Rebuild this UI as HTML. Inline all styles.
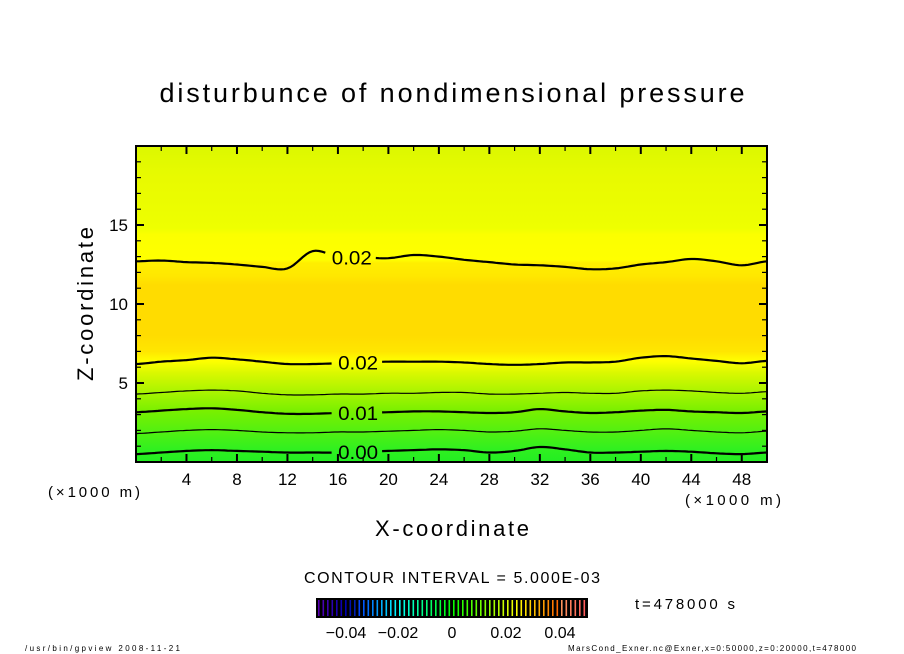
<!DOCTYPE html>
<html><head><meta charset="utf-8"><style>
html,body{margin:0;padding:0;background:#fff;}
svg{display:block;font-family:"Liberation Sans",sans-serif;}
</style></head><body>
<svg id="chart" width="904" height="654" viewBox="0 0 904 654">
<defs>
<linearGradient id="bg" x1="0" y1="1" x2="0" y2="0">
<stop offset="0" stop-color="#22ee22"/>
<stop offset="0.04" stop-color="#30f020"/>
<stop offset="0.10" stop-color="#55f010"/>
<stop offset="0.16" stop-color="#78f000"/>
<stop offset="0.22" stop-color="#a8f400"/>
<stop offset="0.28" stop-color="#d8f800"/>
<stop offset="0.32" stop-color="#ffff00"/>
<stop offset="0.35" stop-color="#ffe600"/>
<stop offset="0.40" stop-color="#ffdc00"/>
<stop offset="0.56" stop-color="#ffdc00"/>
<stop offset="0.59" stop-color="#ffe800"/>
<stop offset="0.63" stop-color="#ffef00"/>
<stop offset="0.64" stop-color="#ffff00"/>
<stop offset="0.72" stop-color="#fbff00"/>
<stop offset="0.74" stop-color="#eeff00"/>
<stop offset="0.90" stop-color="#e8fa00"/>
<stop offset="1" stop-color="#dcf800"/>
</linearGradient>
</defs>
<text x="452" y="102" font-size="27" text-anchor="middle" textLength="585" lengthAdjust="spacing">disturbunce of nondimensional pressure</text>
<rect x="136" y="146" width="631" height="316" fill="url(#bg)"/>
<g id="contours"></g>
<g id="ticks"></g>
<rect x="136" y="146" width="631" height="316" fill="none" stroke="#000" stroke-width="2"/>
<g id="labels" font-size="17"></g>
<text x="48" y="497" font-size="15" textLength="92" lengthAdjust="spacing">(×1000 m)</text>
<text x="685" y="505" font-size="15" textLength="96" lengthAdjust="spacing">(×1000 m)</text>
<text x="452" y="536" font-size="22" text-anchor="middle" textLength="154" lengthAdjust="spacing">X-coordinate</text>
<text transform="translate(93,304) rotate(-90)" font-size="22" text-anchor="middle" textLength="154" lengthAdjust="spacing">Z-coordinate</text>
<text x="452" y="583" font-size="16" text-anchor="middle" textLength="296" lengthAdjust="spacing">CONTOUR INTERVAL = 5.000E-03</text>
<rect x="316" y="598" width="272" height="20" fill="#000"/>
<g id="cbar"></g>
<g font-size="16">
<text x="346" y="638" text-anchor="middle">−0.04</text>
<text x="398" y="638" text-anchor="middle">−0.02</text>
<text x="452" y="638" text-anchor="middle">0</text>
<text x="506" y="638" text-anchor="middle">0.02</text>
<text x="560" y="638" text-anchor="middle">0.04</text>
</g>
<text x="635" y="609" font-size="15" textLength="100" lengthAdjust="spacing">t=478000 s</text>
<text x="25" y="651" font-size="8" textLength="155" lengthAdjust="spacing">/usr/bin/gpview  2008-11-21</text>
<text x="568" y="651" font-size="8" textLength="288" lengthAdjust="spacing">MarsCond_Exner.nc@Exner,x=0:50000,z=0:20000,t=478000</text>
</svg>
<script>
const xs = [0,2,4,6,8,10,12,14,16,18,20,22,24,26,28,30,32,34,36,38,40,42,44,46,48,50];
const levels = ["0.00","0.005","0.01","0.015","0.02","0.02b"];
const lev000 = [0.5,0.6,0.7,0.75,0.7,0.65,0.6,0.6,0.6,0.65,0.7,0.75,0.8,0.75,0.6,0.7,0.95,0.8,0.6,0.6,0.65,0.7,0.65,0.55,0.5,0.6];
const lev005 = [1.8,1.9,2.0,2.05,2.0,1.9,1.85,1.85,1.9,1.9,1.95,2.0,2.05,2.0,1.9,1.95,2.1,2.0,1.9,1.9,2.0,2.1,2.0,1.9,1.85,1.95];
const lev010 = [3.15,3.25,3.35,3.4,3.3,3.15,3.05,3.05,3.1,3.1,3.15,3.2,3.2,3.15,3.1,3.15,3.35,3.2,3.1,3.15,3.25,3.3,3.2,3.15,3.1,3.2];
const lev015 = [4.3,4.4,4.5,4.55,4.5,4.35,4.25,4.25,4.3,4.3,4.35,4.35,4.4,4.4,4.3,4.3,4.35,4.4,4.35,4.35,4.5,4.55,4.5,4.4,4.35,4.45];
const lev020 = [6.2,6.35,6.45,6.6,6.5,6.35,6.2,6.2,6.25,6.3,6.35,6.35,6.35,6.3,6.2,6.15,6.2,6.3,6.3,6.35,6.6,6.7,6.55,6.4,6.25,6.4];
const lev020b = [12.7,12.75,12.65,12.6,12.5,12.35,12.25,13.35,13.0,12.95,12.9,13.1,13.0,12.8,12.65,12.5,12.45,12.35,12.2,12.25,12.5,12.65,12.85,12.7,12.45,12.7];
const labelX = [17.6,null,17.6,null,17.6,17.1];
const labelText = ["0.00",null,"0.01",null,"0.02","0.02"];
const xTicks = [4,8,12,16,20,24,28,32,36,40,44,48];
const yTicks = [5,10,15];
const NS="http://www.w3.org/2000/svg";
const X0=136,X1=767,Y0=462,Y1=146;
function sx(v){return X0+(v/50)*(X1-X0);}
function sy(v){return Y0-(v/20)*(Y0-Y1);}
function mk(tag,attrs,parent){const e=document.createElementNS(NS,tag);for(const k in attrs)e.setAttribute(k,attrs[k]);parent.appendChild(e);return e;}
// Catmull-Rom interpolation of z at x
function zAt(arr,x){
  let i=Math.min(Math.floor(x/2),xs.length-2);const t=(x-xs[i])/2;
  const p0=arr[Math.max(i-1,0)],p1=arr[i],p2=arr[i+1],p3=arr[Math.min(i+2,arr.length-1)];
  return 0.5*((2*p1)+(-p0+p2)*t+(2*p0-5*p1+4*p2-p3)*t*t+(-p0+3*p1-3*p2+p3)*t*t*t);
}
const series=[lev000,lev005,lev010,lev015,lev020,lev020b];
const widths=[2.2,1.2,2.2,1.2,2.2,2.2];
const cg=document.getElementById('contours');
series.forEach((arr,i)=>{
  const gap = labelX[i]!==null ? [labelX[i]-1.9,labelX[i]+1.9] : null;
  let d='',pen=false;
  for(let x=0;x<=50.001;x+=0.25){
    if(gap && x>gap[0] && x<gap[1]){pen=false;continue;}
    d+=(pen?'L':'M')+sx(x).toFixed(1)+','+sy(zAt(arr,x)).toFixed(1)+' ';pen=true;
  }
  const p=mk('path',{d:d,fill:'none',stroke:'#000','stroke-width':widths[i],'stroke-linejoin':'round'},cg);
  
  
  if(labelText[i]){
    const lx=labelX[i];
    const t=mk('text',{x:sx(lx),y:sy(zAt(arr,lx))+7,'font-size':19,'text-anchor':'middle',textLength:40,lengthAdjust:'spacingAndGlyphs'},cg);
    t.textContent=labelText[i];
    
    
  }
});
const tg=document.getElementById('ticks');
for(let v=2;v<50;v+=2){
  const big=v%4===0, L=big?8:5;
  mk('line',{x1:sx(v),y1:Y0,x2:sx(v),y2:Y0-L,stroke:'#000','stroke-width':big?2:1.2},tg);
  mk('line',{x1:sx(v),y1:Y1,x2:sx(v),y2:Y1+L,stroke:'#000','stroke-width':big?2:1.2},tg);
}
for(let v=1;v<20;v++){
  const big=v%5===0, L=big?8:5;
  mk('line',{x1:X0,y1:sy(v),x2:X0+L,y2:sy(v),stroke:'#000','stroke-width':big?2:1.2},tg);
  mk('line',{x1:X1,y1:sy(v),x2:X1-L,y2:sy(v),stroke:'#000','stroke-width':big?2:1.2},tg);
}
const lg=document.getElementById('labels');
xTicks.forEach(v=>{const t=mk('text',{x:sx(v),y:485,'text-anchor':'middle'},lg);t.textContent=v;

});
yTicks.forEach(v=>{const t=mk('text',{x:128,y:sy(v)+6,'text-anchor':'end'},lg);t.textContent=v;

});
const cb=document.getElementById('cbar');
const n=60;
for(let i=0;i<n;i++){
  const f=i/(n-1);
  const hue=f<0.5? 270-f*2*150 : 120-(f-0.5)*2*120;
  const light=f<0.15?35:(f>0.9?68:50);
  mk('rect',{x:318+i*4.5,y:600,width:1.6,height:16,fill:`hsl(${hue},100%,${light}%)`},cb);
}
</script>
</body></html>
